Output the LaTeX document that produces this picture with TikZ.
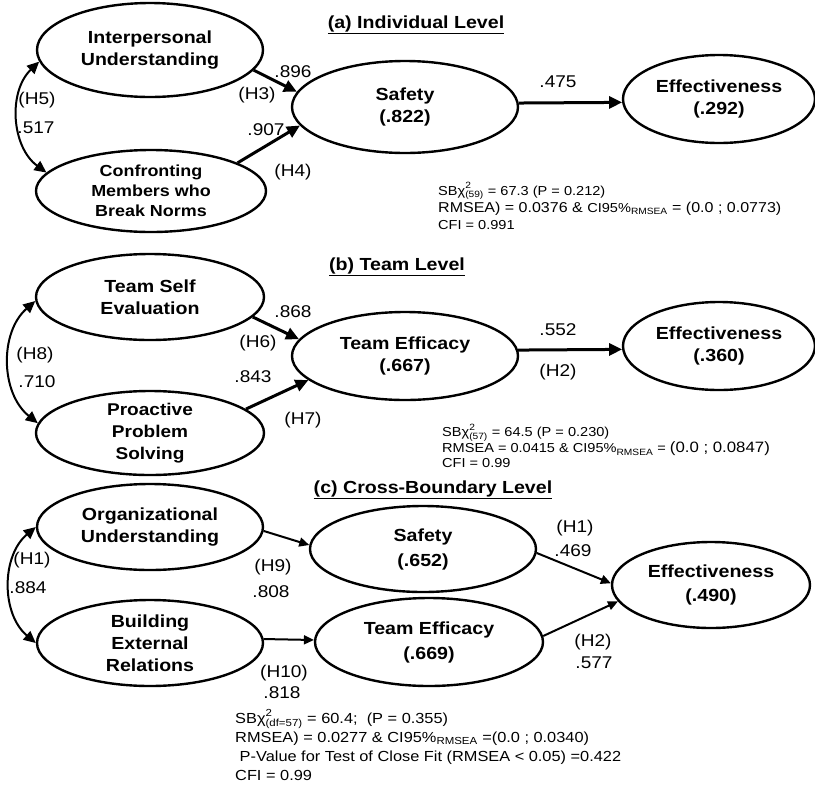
\documentclass[tikz,border=0pt]{standalone}
\usepackage{fontspec}
\setmainfont{Liberation Sans}[FakeStretch=1.12]
\usepackage{tikz}
\usetikzlibrary{shapes.geometric, arrows.meta, positioning}

\newcommand{\sbchi}[1]{SBχ\rlap{\raisebox{0.3ex}{\textsuperscript{2}}}\textsubscript{(#1)}}

\tikzset{
    latent/.style 2 args={ellipse, draw, line width=2.4pt, inner xsep=0pt, inner ysep=-6pt,
        minimum width=#1, minimum height=#2, align=center,
        font=\fontsize{17.5}{22}\selectfont\bfseries},
    effect/.style={line width=3pt, -{Triangle[length=13pt,width=12pt]}},
    effectthin/.style={line width=2pt, -{Triangle[length=10pt,width=9pt]}},
    covar/.style={line width=2pt, {Triangle[length=12pt,width=11pt]}-{Triangle[length=12pt,width=11pt]}},
    coef/.style={inner sep=0pt, font=\fontsize{17}{20}\selectfont},
    fitstat/.style={anchor=west, align=left, inner sep=0pt},
    leveltitle/.style={anchor=base, inner sep=0pt, font=\fontsize{17.5}{20}\selectfont\bfseries}
}

\begin{document}
\begin{tikzpicture}[x=1pt, y=-1pt]
    \useasboundingbox (0,0) rectangle (815,785);

    % (a) individual level
    \node[leveltitle] (titlea) at (416,28) {\underline{(a) Individual Level}};
    \node[latent={226pt}{94pt}] (iu) at (150,50) {Interpersonal\\Understanding};
    \node[latent={230pt}{82pt}, font=\fontsize{16}{20}\selectfont\bfseries] (cm) at (151,191) {Confronting\\Members who\\Break Norms};
    \node[latent={226pt}{92pt}] (safa) at (405,107) {Safety\\(.822)};
    \node[latent={192pt}{88pt}] (effa) at (719,99) {Effectiveness\\(.292)};

    \draw[effect] (iu.-11) -- (safa.172);
    \draw[effect] (cm.18) -- (safa.190);
    \draw[effect] (safa.2) -- (effa.182.4);
    \draw[covar] (iu.186) to[bend right=50] (cm.170);

    \node[coef] (c896) at (293,72) {.896};
    \node[coef] (h3) at (257,95) {(H3)};
    \node[coef] (c907) at (266,130) {.907};
    \node[coef] (h4) at (293,172) {(H4)};
    \node[coef] (h5) at (37,100) {(H5)};
    \node[coef] (c517) at (36,128) {.517};
    \node[coef] (c475) at (558,82) {.475};

    \node[fitstat, font=\fontsize{13}{17}\selectfont] (fita) at (438,206) {\sbchi{59} = 67.3 (P = 0.212)\\
        {\fontsize{14.3}{17}\selectfont RMSEA) = 0.0376 \& {\fontsize{13}{17}\selectfont CI95\%\textsubscript{RMSEA}} = (0.0 ; 0.0773)}\\
        CFI = 0.991};

    % (b) team level
    \node[leveltitle] (titleb) at (397,270) {\underline{(b) Team Level}};
    \node[latent={228pt}{86pt}] (tse) at (150,297) {Team Self\\Evaluation};
    \node[latent={228pt}{84pt}, font=\fontsize{17}{22}\selectfont\bfseries] (pps) at (150,433) {Proactive\\Problem\\Solving};
    \node[latent={226pt}{88pt}] (teb) at (405,356) {Team Efficacy\\(.667)};
    \node[latent={192pt}{88pt}] (effb) at (719,346) {Effectiveness\\(.360)};

    \draw[effect] (tse.-11) -- (teb.171);
    \draw[effect] (pps.14) -- (teb.194);
    \draw[effect] (teb.3) -- (effb.182.4);
    \draw[covar] (tse.182) to[bend right=50] (pps.175);

    \node[coef] (c868) at (293,312) {.868};
    \node[coef] (h6) at (258,343) {(H6)};
    \node[coef] (c843) at (253,377) {.843};
    \node[coef] (h7) at (303,420) {(H7)};
    \node[coef] (h8) at (35,355) {(H8)};
    \node[coef] (c710) at (37,382) {.710};
    \node[coef] (c552) at (558,330) {.552};
    \node[coef] (h2b) at (558,372) {(H2)};

    \node[fitstat, font=\fontsize{13}{15}\selectfont] (fitb) at (442,446) {\sbchi{57} = 64.5 (P = 0.230)\\
        RMSEA = 0.0415 \& CI95\%\textsubscript{RMSEA} = {\fontsize{15}{15}\selectfont (0.0 ; 0.0847)}\\
        CFI = 0.99};

    % (c) cross-boundary level
    \node[leveltitle] (titlec) at (433,493) {\underline{(c) Cross-Boundary Level}};
    \node[latent={226pt}{86pt}] (ou) at (150,527) {Organizational\\Understanding};
    \node[latent={226pt}{86pt}] (ber) at (150,643) {Building\\External\\Relations};
    \node[latent={226pt}{86pt}, font=\fontsize{17.5}{25}\selectfont\bfseries] (safc) at (423,549) {Safety\\(.652)};
    \node[latent={228pt}{88pt}, font=\fontsize{17.5}{25}\selectfont\bfseries] (tec) at (429,642) {Team Efficacy\\(.669)};
    \node[latent={198pt}{86pt}, font=\fontsize{17.5}{24}\selectfont\bfseries] (effc) at (711,585) {Effectiveness\\(.490)};

    \draw[effectthin] (ou.-2) -- (safc.178);
    \draw[effectthin] (ber.2) -- (tec.179);
    \draw[effectthin] (safc.-2) -- (effc.179);
    \draw[effectthin] (tec.3) -- (effc.190);
    \draw[covar] (ou.180) to[bend right=50] (ber.180);

    \node[coef] (h1a) at (32,560) {(H1)};
    \node[coef] (c884) at (28,588) {.884};
    \node[coef] (h9) at (273,567) {(H9)};
    \node[coef] (c808) at (271,592) {.808};
    \node[coef] (h10) at (284,673) {(H10)};
    \node[coef] (c818) at (282,693) {.818};
    \node[coef] (h1c) at (575,528) {(H1)};
    \node[coef] (c469) at (573,551) {.469};
    \node[coef] (h2c) at (593,642) {(H2)};
    \node[coef] (c577) at (594,663) {.577};

    \node[fitstat, font=\fontsize{14.6}{19}\selectfont] (fitc) at (235,745) {\sbchi{df=57} = 60.4;\ \ (P = 0.355)\\
        RMSEA) = 0.0277 \& CI95\%\textsubscript{RMSEA} =(0.0 ; 0.0340)\\
        \ P-Value for Test of Close Fit (RMSEA < 0.05) =0.422\\
        CFI = 0.99};
\end{tikzpicture}
\end{document}
